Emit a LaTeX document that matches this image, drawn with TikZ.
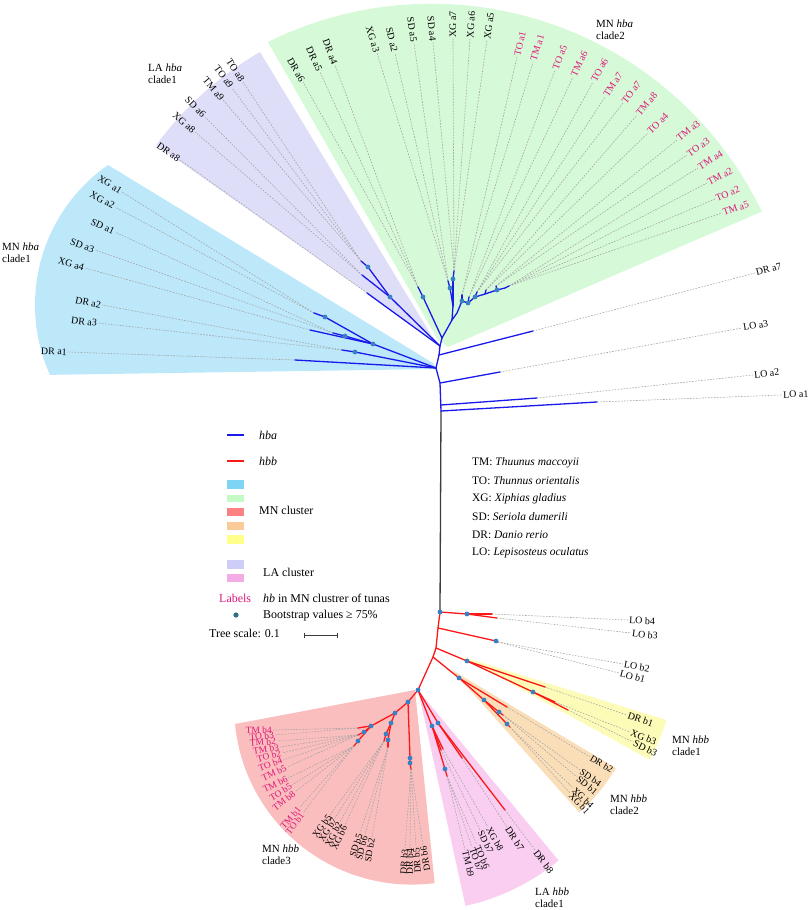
\documentclass[tikz,border=0pt]{standalone}
\usepackage{fontspec}
\setmainfont{Liberation Serif}
\definecolor{hbaC}{RGB}{25,25,235}
\definecolor{hbbC}{RGB}{250,25,25}
\definecolor{tunaC}{RGB}{222,22,122}
\definecolor{dotC}{RGB}{58,128,196}
\definecolor{dotL}{RGB}{46,112,132}
\definecolor{stemC}{RGB}{60,60,60}
\definecolor{dashC}{RGB}{165,165,165}
\definecolor{wBlue}{RGB}{188,232,250}
\definecolor{wGreen}{RGB}{214,249,216}
\definecolor{wPurple}{RGB}{222,222,249}
\definecolor{wRed}{RGB}{251,190,190}
\definecolor{wPink}{RGB}{249,206,240}
\definecolor{wOrange}{RGB}{250,222,184}
\definecolor{wYellow}{RGB}{252,252,184}
\definecolor{lBlue}{RGB}{125,212,245}
\definecolor{lGreen}{RGB}{195,250,200}
\definecolor{lRed}{RGB}{250,130,130}
\definecolor{lOrange}{RGB}{250,202,152}
\definecolor{lYellow}{RGB}{255,255,140}
\definecolor{lPurple}{RGB}{205,205,248}
\definecolor{lPink}{RGB}{245,172,228}
\tikzset{
  lab/.style={font=\fontsize{10}{12}\selectfont, inner sep=1bp},
  tuna/.style={text=tunaC},
  blk/.style={text=black},
  sm/.style={font=\fontsize{9.5}{11}\selectfont},
  dl/.style={draw=dashC, line width=0.6bp, dash pattern=on 1.6bp off 1.4bp},
  ba/.style={draw=hbaC, line width=1.3bp, line cap=round},
  bb/.style={draw=hbbC, line width=1.3bp, line cap=round},
  stemline/.style={draw=stemC, line width=1.3bp},
  leg/.style={font=\fontsize{12}{14}\selectfont, inner sep=1bp},
  spec/.style={font=\fontsize{11.5}{14}\selectfont, inner sep=1bp},
  ttl/.style={font=\fontsize{11}{12.5}\selectfont, inner sep=1bp, align=left},
}
\newcommand\lfR[7]{%
  \coordinate (t#1) at (#2,#3);%
  \pgfmathsetmacro\lfang{atan2(#3-#5,#4-#2)}%
  \node[lab,#7,anchor=west,rotate=\lfang] (n#1) at (#4,#5) {#6};%
  \draw[dl] (t#1) -- (n#1.west);%
}
\newcommand\lfL[7]{%
  \coordinate (t#1) at (#2,#3);%
  \pgfmathsetmacro\lfang{atan2(#3-#5,#4-#2)+180}%
  \node[lab,#7,anchor=east,rotate=\lfang] (n#1) at (#4,#5) {#6};%
  \draw[dl] (t#1) -- (n#1.east);%
}
\begin{document}
\begin{tikzpicture}[x=1bp,y=-1bp]
\useasboundingbox (0,0) rectangle (809,910);
% ---------- clade wedges ----------
\fill[wBlue] (433,363) -- (108,165) arc[start angle=235.1,end angle=155.8,radius=170.6] -- (437,369) -- cycle;
\fill[wPurple] (433,338) -- (260,52) arc[start angle=-120.1,end angle=-143.6,radius=342] -- (428,336) -- cycle;
\fill[wGreen] (438,340) -- (268,42) arc[start angle=-116.4,end angle=-25.7,radius=367] -- (448,347) -- cycle;
\fill[wRed] (415,690) -- (235,724) arc[start angle=174.5,end angle=82.6,radius=177.6] -- cycle;
\fill[wPink] (418,690) -- (558.6,860.5) arc[start angle=50.5,end angle=77.6,radius=221] -- cycle;
\fill[wOrange] (452,670) -- (615.9,768.1) arc[start angle=30.9,end angle=48.2,radius=191] -- cycle;
\fill[wYellow] (463,657) -- (666.5,720) arc[start angle=17.2,end angle=28.8,radius=213] -- cycle;
% ---------- internal nodes ----------
\coordinate (R1) at (441,411); \coordinate (R1a) at (441,405); \coordinate (R2) at (440,383);
\coordinate (A) at (436,368); \coordinate (Bp) at (439,355); \coordinate (B) at (440,346);
\coordinate (C1) at (373,344); \coordinate (C2) at (325,317); \coordinate (C3) at (345,336); \coordinate (C4) at (355,352);
\coordinate (P1) at (390,297); \coordinate (P2) at (368,267);
\coordinate (G0) at (442,338); \coordinate (GD) at (423,297); \coordinate (G1) at (452,320);
\coordinate (GX) at (453,306); \coordinate (GX1) at (450,288); \coordinate (GX2) at (453,279);
\coordinate (GT) at (457,313); \coordinate (GT1) at (462,301); \coordinate (GT2) at (468,303);
\coordinate (GT3) at (475,297); \coordinate (GT35) at (485,294); \coordinate (GT4) at (497,290); \coordinate (GT5) at (505,288);
\coordinate (S0) at (440,612); \coordinate (L1) at (467,614); \coordinate (S1) at (438,628); \coordinate (L2) at (496,641);
\coordinate (S2) at (436,648); \coordinate (Y0) at (467,661); \coordinate (Y1) at (533,692);
\coordinate (S3) at (433,657); \coordinate (O0) at (459,678); \coordinate (O1) at (484,700); \coordinate (O2) at (499,712); \coordinate (O3) at (507,724);
\coordinate (N0) at (418,690); \coordinate (Rn1) at (408,702); \coordinate (Rn2) at (395,713);
\coordinate (RT) at (371,726); \coordinate (RT1) at (364,727); \coordinate (RT2) at (364,732); \coordinate (RT3) at (358,741);
\coordinate (RX) at (391,723); \coordinate (RX1) at (386,734); \coordinate (RX2) at (388,740);
\coordinate (RD) at (410,758); \coordinate (RD2) at (410,763);
\coordinate (PA) at (432,726); \coordinate (PB) at (438,723); \coordinate (PC) at (445,769);
% ---------- leaves: MN hba clade1 ----------
\lfL{1}{314}{313}{122}{192}{XG a1}{blk}
\lfL{2}{314}{313}{115}{207}{XG a2}{blk}
\lfL{3}{333}{333}{115}{232}{SD a1}{blk}
\lfL{4}{333}{333}{95}{250}{SD a3}{blk}
\lfL{5}{310}{330}{85}{268}{XG a4}{blk}
\lfL{6}{342}{350}{102}{305}{DR a2}{blk}
\lfL{7}{342}{350}{98}{323}{DR a3}{blk}
\lfL{8}{295}{360}{68}{352}{DR a1}{blk}
% LA hba clade1
\lfL{9}{361}{261}{243}{82}{TO a8}{blk}
\lfL{10}{361}{261}{232}{88}{TO a9}{blk}
\lfL{11}{361}{261}{223}{100}{TM a9}{blk}
\lfL{12}{362}{275}{205}{117}{SD a6}{blk}
\lfL{13}{362}{275}{195}{132}{XG a8}{blk}
\lfL{14}{367}{293}{180}{160}{DR a8}{blk}
% MN hba clade2
\lfL{15}{418}{287}{303}{82}{DR a6}{blk}
\lfL{16}{418}{287}{320}{72}{DR a5}{blk}
\lfL{17}{418}{287}{335}{65}{DR a4}{blk}
\lfL{18}{448}{281}{377}{53}{XG a3}{blk}
\lfL{19}{448}{281}{395}{53}{SD a2}{blk}
\lfL{20}{448}{281}{414}{43}{SD a5}{blk}
\lfL{21}{454}{271}{433}{42}{SD a4}{blk}
\lfR{22}{454}{271}{453}{39}{XG a7}{blk}
\lfR{23}{454}{271}{470}{39}{XG a6}{blk}
\lfR{24}{454}{271}{487}{40}{XG a5}{blk}
\lfR{25}{462}{295}{517}{57}{TO a1}{tuna}
\lfR{26}{462}{295}{533}{62}{TM a1}{tuna}
\lfR{27}{469}{297}{555}{70}{TO a5}{tuna}
\lfR{28}{469}{297}{573}{77}{TM a6}{tuna}
\lfR{29}{477}{292}{593}{82}{TO a6}{tuna}
\lfR{30}{477}{292}{605}{97}{TM a7}{tuna}
\lfR{31}{477}{292}{623}{103}{TO a7}{tuna}
\lfR{32}{486}{290}{637}{115}{TM a8}{tuna}
\lfR{33}{486}{290}{648}{133}{TO a4}{tuna}
\lfR{34}{496}{286}{677}{140}{TM a3}{tuna}
\lfR{35}{496}{286}{687}{155}{TO a3}{tuna}
\lfR{36}{509}{286}{698}{168}{TM a4}{tuna}
\lfR{37}{509}{286}{707}{183}{TM a2}{tuna}
\lfR{38}{509}{286}{715}{199}{TO a2}{tuna}
\lfR{39}{509}{286}{722}{213}{TM a5}{tuna}
% outgroups hba
\lfR{40}{533}{331}{755}{273}{DR a7}{blk}
\lfR{41}{500}{372}{742}{328}{LO a3}{blk}
\lfR{42}{537}{398}{753}{375}{LO a2}{blk}
\lfR{43}{597}{402}{782}{395}{LO a1}{blk}
% hbb LO
\lfR{44}{492}{614}{628}{620}{LO b4}{blk}
\lfR{45}{497}{618}{631}{633}{LO b3}{blk}
\lfR{46}{498}{642}{623}{664}{LO b2}{blk}
\lfR{47}{498}{642}{619}{673}{LO b1}{blk}
% MN hbb clade1
\lfR{48}{545}{687}{627}{715}{DR b1}{blk}
\lfR{49}{555}{702}{630}{732}{XG b3}{blk}
\lfR{50}{568}{710}{633}{742}{SD b3}{blk}
% MN hbb clade2
\lfR{51}{507}{707}{590}{757}{DR b2}{blk,sm}
\lfR{52}{503}{715}{580}{770}{SD b4}{blk,sm}
\lfR{53}{503}{715}{577}{777}{SD b1}{blk,sm}
\lfR{54}{510}{727}{573}{788}{XG b4}{blk,sm}
\lfR{55}{510}{727}{570}{793}{XG b1}{blk,sm}
% MN hbb clade3
\lfL{56}{358}{728}{273}{730}{TM b4}{tuna,sm}
\lfL{57}{358}{728}{275}{735}{TO b3}{tuna,sm}
\lfL{58}{358}{735}{277}{741}{TM b2}{tuna,sm}
\lfL{59}{358}{735}{280}{747}{TM b3}{tuna,sm}
\lfL{60}{358}{735}{282}{753}{TO b2}{tuna,sm}
\lfL{61}{358}{735}{283}{760}{TO b4}{tuna,sm}
\lfL{62}{358}{735}{287}{767}{TM b5}{tuna,sm}
\lfL{63}{354}{746}{288}{778}{TM b6}{tuna,sm}
\lfL{64}{354}{746}{292}{785}{TO b5}{tuna,sm}
\lfL{65}{354}{746}{295}{792}{TM b8}{tuna,sm}
\lfL{66}{354}{746}{300}{807}{TM b1}{tuna,sm}
\lfL{67}{354}{746}{303}{813}{TO b1}{tuna,sm}
\lfL{68}{384}{741}{330}{815}{XG b5}{blk,sm}
\lfL{69}{384}{741}{335}{818}{XG b7}{blk,sm}
\lfL{70}{384}{741}{340}{822}{XG b2}{blk,sm}
\lfL{71}{384}{741}{345}{825}{XG b6}{blk,sm}
\lfL{72}{388}{747}{360}{833}{SD b5}{blk,sm}
\lfL{73}{388}{747}{365}{835}{SD b6}{blk,sm}
\lfL{74}{388}{747}{372}{837}{SD b2}{blk,sm}
\lfL{75}{411}{769}{405}{848}{DR b3}{blk,sm}
\lfL{76}{411}{769}{410}{848}{DR b4}{blk,sm}
\lfL{77}{411}{769}{416}{847}{DR b5}{blk,sm}
\lfL{78}{411}{769}{423}{845}{DR b6}{blk,sm}
% LA hbb clade1
\lfR{79}{443}{749}{488}{827}{XG b8}{blk,sm}
\lfR{80}{441}{750}{480}{830}{SD b7}{blk,sm}
\lfR{81}{447}{776}{477}{845}{TO b6}{blk,sm}
\lfR{82}{447}{776}{472}{847}{TO b7}{blk,sm}
\lfR{83}{447}{776}{465}{850}{TM b9}{blk,sm}
\lfR{84}{462}{758}{507}{827}{DR b7}{blk}
\lfR{85}{505}{810}{535}{850}{DR b8}{blk}
% ---------- branches ----------
\draw[stemline] (S0) -- (R1);
\draw[ba] (R1) -- (R2) -- (A) -- (Bp) -- (B);
\draw[ba] (R1) -- (t43); \draw[ba] (R1a) -- (t42); \draw[ba] (R2) -- (t41); \draw[ba] (Bp) -- (t40);
\draw[ba] (A) -- (C1) -- (C2); \draw[ba] (C1) -- (C3); \draw[ba] (C1) -- (t5);
\draw[ba] (C2) -- (t1); \draw[ba] (C3) -- (t3);
\draw[ba] (A) -- (C4); \draw[ba] (C4) -- (t6); \draw[ba] (A) -- (t8);
\draw[ba] (B) -- (P1) -- (P2); \draw[ba] (B) -- (t14);
\draw[ba] (P2) -- (t9); \draw[ba] (P1) -- (t12);
\draw[ba] (B) -- (G0) -- (GD); \draw[ba] (G0) -- (G1) -- (GX) -- (GX1); \draw[ba] (GX) -- (GX2);
\draw[ba] (GD) -- (t15); \draw[ba] (GX1) -- (t18); \draw[ba] (GX2) -- (t21);
\draw[ba] (G1) -- (GT) -- (GT1) -- (GT2) -- (GT3) -- (GT35) -- (GT4) -- (GT5);
\draw[ba] (GT1) -- (t25); \draw[ba] (GT2) -- (t27); \draw[ba] (GT3) -- (t29);
\draw[ba] (GT35) -- (t32); \draw[ba] (GT4) -- (t34); \draw[ba] (GT5) -- (t36);
% hbb
\draw[bb] (S0) -- (S1) -- (S2) -- (S3) -- (N0);
\draw[bb] (S0) -- (L1); \draw[bb] (L1) -- (t44); \draw[bb] (L1) -- (t45);
\draw[bb] (S1) -- (L2) -- (t46);
\draw[bb] (S2) -- (Y0) -- (t48); \draw[bb] (Y0) -- (Y1); \draw[bb] (Y1) -- (t49); \draw[bb] (Y1) -- (t50);
\draw[bb] (S3) -- (O0) -- (t51); \draw[bb] (O0) -- (O1) -- (O2); \draw[bb] (O1) -- (O3);
\draw[bb] (O2) -- (t52); \draw[bb] (O3) -- (t54);
\draw[bb] (N0) -- (Rn1) -- (Rn2) -- (RT) -- (RT1); \draw[bb] (RT) -- (RT2); \draw[bb] (RT) -- (RT3);
\draw[bb] (RT1) -- (t56); \draw[bb] (RT2) -- (t58); \draw[bb] (RT3) -- (t63);
\draw[bb] (Rn2) -- (RX) -- (RX1); \draw[bb] (RX) -- (RX2);
\draw[bb] (RX1) -- (t68); \draw[bb] (RX2) -- (t72);
\draw[bb] (Rn1) -- (RD) -- (RD2) -- (t75);
\draw[bb] (N0) -- (PA) -- (PC); \draw[bb] (PA) -- (t79); \draw[bb] (PA) -- (t80);
\draw[bb] (PC) -- (t81);
\draw[bb] (N0) -- (PB) -- (t85); \draw[bb] (PB) -- (t84);
% ---------- bootstrap dots ----------
\foreach \p in {C1,C2,C3,C4,P1,P2,GD,GX1,GX2,GT1,GT2,GT3,GT4,S0,L1,L2,Y0,Y1,O0,O1,O2,O3,N0,Rn1,Rn2,RT,RT2,RT3,RX,RX1,RX2,RD,RD2,PA,PB,PC}
  \fill[dotC] (\p) circle[radius=2.4bp];
% ---------- clade titles ----------
\node[ttl,anchor=west] (ct1) at (1,252.5) {MN \textit{hba}\\clade1};
\node[ttl,anchor=west] (ct2) at (147,74) {LA \textit{hba}\\clade1};
\node[ttl,anchor=west] (ct3) at (595,30) {MN \textit{hba}\\clade2};
\node[ttl,anchor=west] (ct4) at (671,746) {MN \textit{hbb}\\clade1};
\node[ttl,anchor=west] (ct5) at (609,805) {MN \textit{hbb}\\clade2};
\node[ttl,anchor=west] (ct6) at (261,855) {MN \textit{hbb}\\clade3};
\node[ttl,anchor=west] (ct7) at (534,897.5) {LA \textit{hbb}\\clade1};
% ---------- legend ----------
\coordinate (la1) at (227,435); \coordinate (la2) at (244,435);
\draw[hbaC,line width=2.6bp] (la1) -- (la2);
\node[leg,anchor=west] (lta) at (258,435) {\textit{hba}};
\coordinate (lb1) at (227,461); \coordinate (lb2) at (244,461);
\draw[hbbC,line width=2.6bp] (lb1) -- (lb2);
\node[leg,anchor=west] (ltb) at (258,461) {\textit{hbb}};
\fill[lBlue] (227,480) rectangle (244,488.5);
\fill[lGreen] (227,494.5) rectangle (244,502);
\fill[lRed] (227,507.5) rectangle (244,515.5);
\fill[lOrange] (227,521.5) rectangle (244,530);
\fill[lYellow] (227,535) rectangle (244,543.5);
\fill[lPurple] (227,560) rectangle (244,568.5);
\fill[lPink] (227,573.5) rectangle (244,582);
\node[leg,anchor=west] (lmn) at (258,510) {MN cluster};
\node[leg,anchor=west] (lla) at (262,572) {LA cluster};
\node[leg,anchor=west,text=tunaC] (llab) at (218,598.5) {Labels};
\node[leg,anchor=west] (lhb) at (262,598.5) {\textit{hb} in MN clustrer of tunas};
\coordinate (ldot) at (236,615);
\fill[dotL] (ldot) circle[radius=2.6bp];
\node[leg,anchor=west] (lbs) at (262,615.5) {Bootstrap values ≥ 75\%};
\node[leg,anchor=west] (lts) at (208,633) {Tree scale: 0.1};
\coordinate (sc1) at (304,635); \coordinate (sc2) at (337,635);
\draw[stemC,line width=0.8bp] (sc1) -- (sc2);
\draw[stemC,line width=0.8bp] (304,632.5) -- (304,637.5);
\draw[stemC,line width=0.8bp] (337,632.5) -- (337,637.5);
\node[spec,anchor=west] (sp1) at (471,463) {TM: \textit{Thuunus maccoyii}};
\node[spec,anchor=west] (sp2) at (471,481) {TO: \textit{Thunnus orientalis}};
\node[spec,anchor=west] (sp3) at (471,499) {XG: \textit{Xiphias gladius}};
\node[spec,anchor=west] (sp4) at (471,517) {SD: \textit{Seriola dumerili}};
\node[spec,anchor=west] (sp5) at (471,535) {DR: \textit{Danio rerio}};
\node[spec,anchor=west] (sp6) at (471,553) {LO: \textit{Lepisosteus oculatus}};
\end{tikzpicture}
\end{document}
